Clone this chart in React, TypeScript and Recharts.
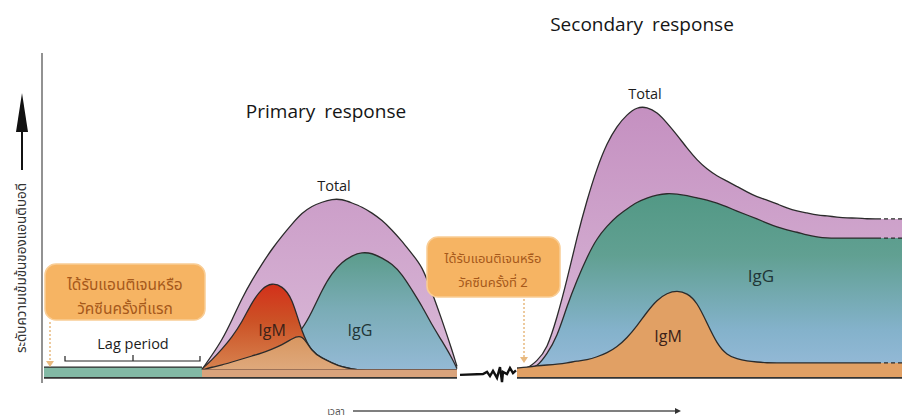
import React from 'react';
import { ComposedChart, Area, Line, XAxis, YAxis, ReferenceLine } from 'recharts';

// ---- data (time in arbitrary days, level in arbitrary antibody units) ----
const lagDays = [0.4, 32];
const lagLevel = [3.3, 3.3];

const primaryDays = [32, 34, 36, 38, 40, 42, 44, 46, 48, 50, 52, 54, 56, 58, 60, 62, 64, 66, 68, 70, 72, 74, 76, 78, 80, 82, 83];
const primaryTotal = [2.5, 7.3, 12.3, 19, 26.3, 32.3, 37.7, 42.7, 47, 51, 54.7, 57, 58.3, 59.3, 59.3, 58, 56.7, 54.7, 52.3, 49, 45.3, 41, 37, 28.3, 19, 9, 3.5];
const primaryIgG = [2.3, 3.3, 4, 5, 6, 7, 8, 9.3, 10.7, 12.7, 15.7, 21.7, 29, 34.7, 38.3, 40.5, 41.6, 41.3, 39.7, 37.7, 34.3, 29, 23.7, 17.3, 12, 6.3, 2.8];
const primaryIgM = [2.7, 5.7, 9.3, 13.3, 18.3, 25, 29.6, 31.4, 30.3, 26.7, 14.5, 8.3, 6.3, 4.7, 3.3, 2.7, 2.3, 2.3, 2.3, 2.3, 2.3, 2.3, 2.3, 2.3, 2.3, 2.3, 2.3];
const primaryBaseLevel = 2.5;

const breakDays = [83.6, 88.2, 89, 89.6, 90.2, 91, 91.6, 92, 92.2, 93, 93.6, 94.2, 94.8];
const breakTrace = [0.7, 1, 1.7, 0.3, 2, -0.3, 3.3, -1.7, 1.7, 1, 3, 1.3, 2.2];

const secondaryDays = [95, 97, 99, 101, 103, 105, 107, 109, 111, 113, 115, 117, 119, 121, 123, 125, 127, 129, 131, 133, 135, 137, 139, 141, 143, 145, 147, 149, 151, 153, 155, 157, 159, 161, 163, 165, 167, 169, 171, 172];
const secondaryTotal = [2.5, 2.7, 5.3, 9.3, 19.7, 32.3, 46.7, 59, 69.7, 78, 83.7, 87.5, 90, 90, 88.3, 84.7, 80.7, 76.3, 72.3, 69.3, 67, 65.3, 63.5, 61.7, 60, 59, 57.7, 56.3, 55.3, 54.7, 54, 53.7, 53.3, 53, 53, 52.7, 52.7, 52.7, 52.7, 52.7];
const secondaryIgG = [2.5, 2.7, 3.3, 7.7, 13.3, 23.7, 32.3, 40, 46.3, 50.3, 53.7, 56, 58.3, 59.7, 60.7, 61.2, 61, 60.5, 59.7, 59, 58, 56.7, 55.3, 54, 52.7, 51.3, 50, 49, 48.3, 47.3, 46.7, 46.3, 46.3, 46.3, 46.3, 46.3, 46.3, 46.3, 46.3, 46.3];
const secondaryIgM = [3, 3.3, 3.7, 4, 4.3, 4.7, 5.3, 5.7, 6.7, 8, 10, 13, 17, 21.7, 25.7, 28, 28.8, 28, 25, 18, 11, 7.3, 6, 5.3, 5, 4.7, 4.7, 4.7, 4.7, 4.7, 4.7, 4.7, 4.7, 4.7, 4.7, 4.7, 4.7, 4.7, 4.7, 4.7];
const dashFromDay = 167;
const floorLevel = -0.3;

const KEYS = ['lag', 'floor', 'pTotal', 'pIgG', 'pIgM', 'pOverlap', 'pBase', 'brk',
  'sTotal', 'sIgG', 'sIgM', 'sTotalTail', 'sIgGTail', 'sIgMTail'];

type Row = { day: number; [k: string]: number | null };
const rowMap = new Map<number, Row>();
const put = (day: number, key: string, v: number) => {
  let r = rowMap.get(day);
  if (!r) {
    r = { day } as Row;
    KEYS.forEach((k) => (r![k] = null));
    rowMap.set(day, r);
  }
  r[key] = v;
};
lagDays.forEach((d, i) => { put(d, 'lag', lagLevel[i]); put(d, 'floor', floorLevel); });
primaryDays.forEach((d, i) => {
  put(d, 'pTotal', primaryTotal[i]);
  put(d, 'pIgG', primaryIgG[i]);
  put(d, 'pIgM', primaryIgM[i]);
  put(d, 'pOverlap', Math.min(primaryIgG[i], primaryIgM[i]));
  put(d, 'pBase', primaryBaseLevel);
  put(d, 'floor', floorLevel);
});
breakDays.forEach((d, i) => put(d, 'brk', breakTrace[i]));
secondaryDays.forEach((d, i) => {
  if (d <= dashFromDay) {
    put(d, 'sTotal', secondaryTotal[i]);
    put(d, 'sIgG', secondaryIgG[i]);
    put(d, 'sIgM', secondaryIgM[i]);
  }
  if (d >= dashFromDay) {
    put(d, 'sTotalTail', secondaryTotal[i]);
    put(d, 'sIgGTail', secondaryIgG[i]);
    put(d, 'sIgMTail', secondaryIgM[i]);
  }
  put(d, 'floor', floorLevel);
});
const table = Array.from(rowMap.values()).sort((a, b) => a.day - b.day);

const EN = "'Open Sans', 'Noto Sans', 'DejaVu Sans', sans-serif";
const TH = "'Noto Sans Thai', 'Noto Sans Thai Looped', 'Loma', 'Garuda', 'Norasi', 'Waree', sans-serif";
const OUT = '#2b2b2b';

const area = (key: string, fill: string, opts: any = {}) => (
  <Area
    key={key}
    type="basis"
    dataKey={key}
    fill={fill}
    fillOpacity={1}
    stroke={OUT}
    strokeWidth={1.3}
    baseValue={0}
    dot={false}
    activeDot={false}
    isAnimationActive={false}
    {...opts}
  />
);

export default function App() {
  return (
    <div style={{ position: 'absolute', left: 0, top: 0, width: 902, height: 420, background: '#fff' }}>
      <ComposedChart width={902} height={420} data={table} margin={{ top: 53, right: 0, bottom: 37, left: 42 }}>
        <defs>
          <linearGradient id="purpleG" gradientUnits="userSpaceOnUse" x1="0" y1="100" x2="0" y2="377">
            <stop offset="0" stopColor="#c48fc0" />
            <stop offset="1" stopColor="#dabad8" />
          </linearGradient>
          <linearGradient id="pIgGG" x1="0" y1="0" x2="0" y2="1">
            <stop offset="0" stopColor="#5b9c8b" />
            <stop offset="0.45" stopColor="#7aacb6" />
            <stop offset="1" stopColor="#97bbd9" />
          </linearGradient>
          <linearGradient id="sIgGG" gradientUnits="userSpaceOnUse" x1="0" y1="190" x2="0" y2="377">
            <stop offset="0" stopColor="#519884" />
            <stop offset="0.35" stopColor="#61a092" />
            <stop offset="0.75" stopColor="#84b2cb" />
            <stop offset="1" stopColor="#98bbda" />
          </linearGradient>
          <linearGradient id="pIgMG" x1="0" y1="0" x2="0" y2="1">
            <stop offset="0" stopColor="#d3301a" />
            <stop offset="0.4" stopColor="#cc5226" />
            <stop offset="1" stopColor="#d98a55" />
          </linearGradient>
          <linearGradient id="ovlG" x1="0" y1="0" x2="0" y2="1">
            <stop offset="0" stopColor="#d89660" />
            <stop offset="1" stopColor="#e0ad82" />
          </linearGradient>
        </defs>
        <XAxis dataKey="day" type="number" domain={[0, 172]} hide allowDataOverflow />
        <YAxis type="number" domain={[-2, 108]} hide allowDataOverflow />

        {area('lag', '#82b9a5', { baseValue: floorLevel, type: 'linear' })}

        {area('pTotal', 'url(#purpleG)')}
        {area('pIgG', 'url(#pIgGG)')}
        {area('pIgM', 'url(#pIgMG)')}
        {area('pOverlap', 'url(#ovlG)')}
        {area('pBase', '#d9a37c', { type: 'linear', stroke: '#6b4a3c', strokeWidth: 0.8, strokeOpacity: 0.7 })}

        {area('sTotal', 'url(#purpleG)')}
        {area('sTotalTail', 'url(#purpleG)', { strokeDasharray: '4 3', type: 'linear' })}
        {area('sIgG', 'url(#sIgGG)')}
        {area('sIgGTail', 'url(#sIgGG)', { strokeDasharray: '4 3', type: 'linear' })}
        {area('sIgM', '#e1a064')}
        {area('sIgMTail', '#e1a064', { strokeDasharray: '4 3', type: 'linear' })}

        <Line type="linear" dataKey="floor" stroke="#333" strokeWidth={1.6} dot={false} activeDot={false} isAnimationActive={false} />
        <Line type="linear" dataKey="brk" stroke="#111" strokeWidth={2.4} dot={false} activeDot={false} isAnimationActive={false} />

        <ReferenceLine segment={[{ x: 0, y: -2 }, { x: 0, y: 108 }]} stroke="#777" strokeWidth={1.6} ifOverflow="visible" />
      </ComposedChart>

      <svg width={902} height={420} style={{ position: 'absolute', left: 0, top: 0, pointerEvents: 'none' }}>
        {/* titles */}
        <text x={326} y={118} textAnchor="middle" fontFamily={EN} fontSize={19} fill="#151515" wordSpacing={4}>Primary response</text>
        <text x={642} y={31} textAnchor="middle" fontFamily={EN} fontSize={19} fill="#151515" wordSpacing={4}>Secondary response</text>

        {/* series labels */}
        <text x={334} y={191} textAnchor="middle" fontFamily={EN} fontSize={14.5} fill="#1c1c1c">Total</text>
        <text x={645} y={99} textAnchor="middle" fontFamily={EN} fontSize={14.5} fill="#1c1c1c">Total</text>
        <text x={272} y={336} textAnchor="middle" fontFamily={EN} fontSize={16} fill="#3b2118">IgM</text>
        <text x={360} y={336} textAnchor="middle" fontFamily={EN} fontSize={16} fill="#1f3536">IgG</text>
        <text x={761} y={282} textAnchor="middle" fontFamily={EN} fontSize={17} fill="#1f3536">IgG</text>
        <text x={668} y={342} textAnchor="middle" fontFamily={EN} fontSize={16} fill="#3b2118">IgM</text>

        {/* lag period */}
        <text x={133} y={349} textAnchor="middle" fontFamily={EN} fontSize={14.5} fill="#1c1c1c">Lag period</text>
        <path d="M65 356 V361 H200 V356 M133 361 V355" stroke="#222" strokeWidth={1.2} fill="none" />

        {/* first exposure callout */}
        <rect x={45} y={264} width={160} height={56} rx={11} fill="#f6b463" stroke="#f9cd95" strokeWidth={1.5} />
        <text x={125} y={290} textAnchor="middle" fontFamily={TH} fontSize={15.5} fill="#a6591b">ได้รับแอนติเจนหรือ</text>
        <text x={125} y={314} textAnchor="middle" fontFamily={TH} fontSize={15.5} fill="#a6591b">วัคซีนครั้งที่แรก</text>
        <line x1={50} y1={322} x2={50} y2={361} stroke="#e8b97f" strokeWidth={1.5} strokeDasharray="2 2" />
        <polygon points="46,361 54,361 50,367" fill="#e8b97f" />

        {/* second exposure callout */}
        <rect x={427} y={237} width={133} height={60} rx={11} fill="#f6b463" stroke="#f9cd95" strokeWidth={1.5} />
        <text x={493} y={263} textAnchor="middle" fontFamily={TH} fontSize={13} fill="#a6591b">ได้รับแอนติเจนหรือ</text>
        <text x={493} y={287} textAnchor="middle" fontFamily={TH} fontSize={13} fill="#a6591b">วัคซีนครั้งที่ 2</text>
        <line x1={524} y1={299} x2={524} y2={357} stroke="#e8b97f" strokeWidth={1.5} strokeDasharray="2 2" />
        <polygon points="520,357 528,357 524,363" fill="#e8b97f" />

        {/* y axis label */}
        <polygon points="22,93 16,132 28,132" fill="#111" />
        <line x1={22} y1={131} x2={22} y2={170} stroke="#111" strokeWidth={2} />
        <text transform="translate(26,268) rotate(-90)" textAnchor="middle" fontFamily={TH} fontSize={13.5} fill="#333">ระดับความเข้มข้นของแอนติบอดี</text>

        {/* x axis label */}
        <text x={336} y={415} textAnchor="middle" fontFamily={TH} fontSize={10} fill="#555">เวลา</text>
        <line x1={353} y1={411} x2={678} y2={411} stroke="#555" strokeWidth={1.3} />
        <polygon points="675,408 681,411 675,414" fill="#333" />
      </svg>
    </div>
  );
}
